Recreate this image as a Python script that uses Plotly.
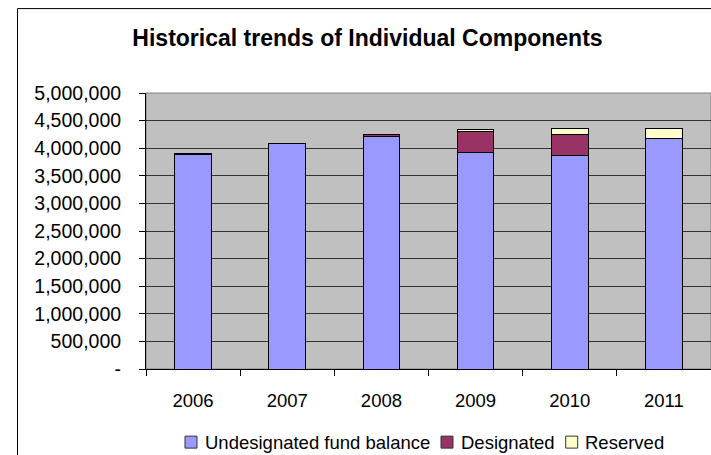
import plotly.graph_objects as go

years = ["2006", "2007", "2008", "2009", "2010", "2011"]
undesignated = [3880000, 4090000, 4210000, 3920000, 3870000, 4170000]
designated = [25000, 0, 30000, 380000, 385000, 0]
reserved = [0, 0, 0, 36000, 100000, 188000]
ytick_vals = [0, 500000, 1000000, 1500000, 2000000, 2500000, 3000000, 3500000, 4000000, 4500000, 5000000]
ytick_text = ["-", "500,000", "1,000,000", "1,500,000", "2,000,000", "2,500,000",
              "3,000,000", "3,500,000", "4,000,000", "4,500,000", "5,000,000"]
series_names = ["Undesignated fund balance", "Designated", "Reserved"]
series_colors = ["#9999FF", "#993366", "#FFFFCC"]

FONT = "Liberation Sans, Arial, sans-serif"

W, H = 711, 455
L, R, T, B = 146, 711, 93, 369.3
def px(x):
    return (x - L) / (R - L)
def py(y):
    return (B - y) / (B - T)

fig = go.Figure()
for name, vals, col in zip(series_names, [undesignated, designated, reserved], series_colors):
    fig.add_trace(go.Bar(x=years, y=vals, name=name,
                         marker=dict(color=col, line=dict(color="#000000", width=1))))

fig.update_layout(
    width=W, height=H,
    barmode="stack", bargap=0.61,
    margin=dict(l=L, r=W - R, t=T, b=H - B, pad=0, autoexpand=False),
    paper_bgcolor="white", plot_bgcolor="#C0C0C0",
    font=dict(family=FONT, size=18.5, color="#000000"),
    title=dict(text="<b>Historical trends of Individual Components</b>",
               font=dict(family=FONT, size=23, color="#000"),
               x=px(367.5), xref="paper", xanchor="center",
               y=1 - 38 / H, yref="container", yanchor="middle"),
    showlegend=False,
)
fig.update_yaxes(range=[0, 5000000], tickvals=ytick_vals, ticktext=ytick_text,
                 tickfont=dict(size=19.5),
                 showgrid=True, gridcolor="#333333", gridwidth=1,
                 ticks="outside", ticklen=6, tickcolor="#000", tickwidth=1,
                 showline=True, linecolor="#000", linewidth=1,
                 ticklabelstandoff=14, zeroline=False, fixedrange=True)
fig.update_xaxes(type="category", tickson="boundaries",
                 tickfont=dict(size=18.5),
                 ticks="outside", ticklen=6, tickcolor="#000", tickwidth=1,
                 showline=True, linecolor="#000", linewidth=1,
                 showgrid=False, ticklabelstandoff=15, fixedrange=True)

# plot-area border (gray) and chart-area border (black)
fig.add_shape(type="rect", xref="paper", yref="paper", x0=0, x1=1, y0=0, y1=1,
              line=dict(color="#808080", width=1), layer="below")
fig.add_shape(type="rect", xref="paper", yref="paper",
              x0=px(17.5), x1=px(740), y0=py(480), y1=py(8.5),
              line=dict(color="#000000", width=1), layer="above")

# legend (Excel style: small square right next to the label)
legend_sq_x = [185, 441, 565.7]
legend_tx_x = [203, 459, 583]
for name, col, sx, tx in zip(series_names, series_colors, legend_sq_x, legend_tx_x):
    fig.add_shape(type="rect", xref="paper", yref="paper",
                  x0=px(sx), x1=px(sx + 12), y0=py(448.5), y1=py(436.5),
                  fillcolor=col, line=dict(color="#333333", width=1), layer="above")
    fig.add_annotation(text=name, xref="paper", yref="paper", x=px(tx), y=py(443),
                       xanchor="left", yanchor="middle", showarrow=False,
                       font=dict(family=FONT, size=18.5, color="#000"))

fig.write_html("out.html", config={"displayModeBar": False},
               post_script="document.body.style.margin='0';document.body.style.overflow='hidden';")
